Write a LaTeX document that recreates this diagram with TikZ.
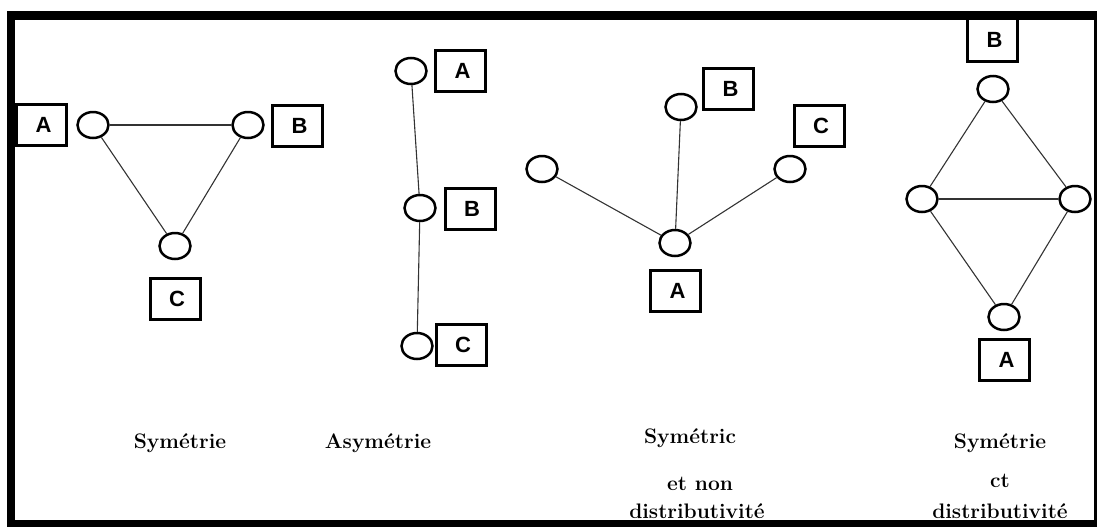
\documentclass[tikz,border=0pt]{standalone}
\usepackage{fontspec}
\newfontfamily\tagfont{Liberation Sans}
\usetikzlibrary{shapes.geometric}
\begin{document}
\begin{tikzpicture}[x=1pt,y=-1pt,
  vertex/.style={draw, ellipse, line width=2.5pt, fill=white,
    minimum width=31pt, minimum height=26pt, inner sep=0pt},
  tag/.style={draw, line width=3pt, fill=white,
    minimum width=50pt, minimum height=41pt, inner sep=0pt,
    font=\tagfont\bfseries\fontsize{22}{22}\selectfont},
  link/.style={line width=1.1pt, black!80},
  caption/.style={font=\bfseries\fontsize{21}{24}\selectfont, align=center},
  band/.style={fill=black}]
\useasboundingbox (0,0) rectangle (1100,528);

% outer frame
\fill[band] (7,11) rectangle (1097,20);
\fill[band] (7,11) rectangle (15,527);
\fill[band] (7,520) rectangle (1097,527);
\fill[band] (1094,11) rectangle (1097,527);

% ---- Symétrie : triangle
\node[vertex] (a1) at (93,125) {};
\node[vertex] (b1) at (248,125) {};
\node[vertex] (c1) at (175,246) {};
\draw[link] (a1) -- (b1);
\draw[link] (a1) -- (c1);
\draw[link] (b1) -- (c1);
\node[tag] (ta1) at (41.5,125) {\hspace{4pt}A};
\node[tag] (tb1) at (297.5,125.5) {\hspace{4pt}B};
\node[tag] (tc1) at (175,298.5) {\hspace{4pt}C};
\node[caption] (cap1) at (180,443) {Symétrie};

% ---- Asymétrie : chain
\node[vertex] (a2) at (411,71) {};
\node[vertex] (b2) at (420,208) {};
\node[vertex] (c2) at (417,346) {};
\draw[link] (a2) -- (b2);
\draw[link] (b2) -- (c2);
\node[tag] (ta2) at (460.5,70.5) {\hspace{4pt}A};
\node[tag] (tb2) at (470,208.5) {\hspace{4pt}B};
\node[tag] (tc2) at (461,344.5) {\hspace{4pt}C};
\node[caption] (cap2) at (378,443) {Asymétrie};

% ---- star around A
\node[vertex] (l3) at (542,169) {};
\node[vertex] (b3) at (681,107) {};
\node[vertex] (c3) at (790,169) {};
\node[vertex] (a3) at (675,243) {};
\draw[link] (a3) -- (l3);
\draw[link] (a3) -- (b3);
\draw[link] (a3) -- (c3);
\node[tag] (tb3) at (728.5,88.5) {\hspace{4pt}B};
\node[tag] (tc3) at (819,125.5) {\hspace{4pt}C};
\node[tag] (ta3) at (675.5,290.5) {\hspace{4pt}A};
\node[caption] (cap3a) at (690,438) {Symétric};
\node[caption] (cap3b) at (700,484) {et non};
\node[caption] (cap3c) at (697,511) {distributivité};

% ---- diamond
\node[vertex] (b4) at (993,89) {};
\node[vertex] (l4) at (922,199) {};
\node[vertex] (r4) at (1075,199) {};
\node[vertex] (a4) at (1004,317) {};
\draw[link] (b4) -- (l4);
\draw[link] (b4) -- (r4);
\draw[link] (l4) -- (r4);
\draw[link] (l4) -- (a4);
\draw[link] (r4) -- (a4);
\node[tag, minimum height=43pt] (tb4) at (992.5,40) {\hspace{4pt}B};
\node[tag] (ta4) at (1004.5,359.5) {\hspace{4pt}A};
\node[caption] (cap4a) at (1000,443) {Symétrie};
\node[caption] (cap4b) at (1000,481) {ct};
\node[caption] (cap4c) at (1000,511) {distributivité};
\end{tikzpicture}
\end{document}
